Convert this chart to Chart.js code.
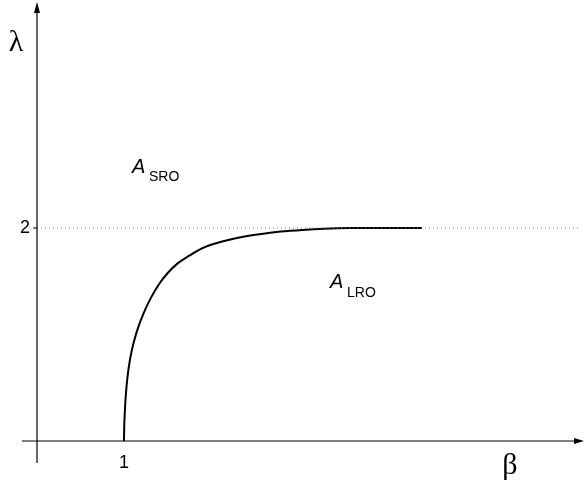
<!DOCTYPE html>
<html>
<head>
<meta charset="utf-8">
<script src="https://cdn.jsdelivr.net/npm/chart.js@4"></script>
<style>
  html, body { margin: 0; padding: 0; background: #fff; }
  #wrap { width: 584px; height: 484px; }
</style>
</head>
<body>
<div id="wrap"><canvas id="chart1"></canvas></div>
<script>
// boundary curve lambda(beta)
var betaValues = [1.0, 1.002, 1.008, 1.02, 1.04, 1.07, 1.11, 1.16, 1.22, 1.3, 1.4, 1.5, 1.62, 1.75, 1.9, 2.05, 2.2, 2.4, 2.6, 2.8, 3.05, 3.3, 3.6, 4.0, 4.425];
var lambdaValues = [0.0, 0.12, 0.25, 0.42, 0.6, 0.77, 0.92, 1.06, 1.19, 1.33, 1.47, 1.575, 1.67, 1.74, 1.81, 1.855, 1.888, 1.922, 1.947, 1.966, 1.982, 1.993, 1.999, 2.0, 2.0];
var dashedLevel = [2, 2];
var dashedBeta = [0, 6.24];
var xTickLabels = ['1'];
var yTickLabels = ['2'];

var curve = betaValues.map(function(b, i) { return { x: b, y: lambdaValues[i] }; });
var level = dashedBeta.map(function(b, i) { return { x: b, y: dashedLevel[i] }; });

var axesPlugin = {
    id: 'axes',
    afterDatasetsDraw: function(chart) {
        var ctx = chart.ctx;
        var xs = chart.scales.x, ys = chart.scales.y;
        var x0 = xs.getPixelForValue(0), y0 = ys.getPixelForValue(0);
        ctx.save();
        ctx.strokeStyle = '#000';
        ctx.fillStyle = '#000';
        ctx.lineWidth = 1.2;
        // x axis
        ctx.beginPath();
        ctx.moveTo(22, y0);
        ctx.lineTo(580, y0);
        ctx.stroke();
        ctx.beginPath();
        ctx.moveTo(584, y0);
        ctx.lineTo(574, y0 - 3);
        ctx.lineTo(574, y0 + 3);
        ctx.closePath();
        ctx.fill();
        // y axis
        ctx.beginPath();
        ctx.moveTo(x0, 463);
        ctx.lineTo(x0, 8);
        ctx.stroke();
        ctx.beginPath();
        ctx.moveTo(x0, 2);
        ctx.lineTo(x0 - 3, 13);
        ctx.lineTo(x0 + 3, 13);
        ctx.closePath();
        ctx.fill();
        // tick at 2
        var y2 = ys.getPixelForValue(2);
        ctx.lineWidth = 1;
        ctx.beginPath();
        ctx.moveTo(x0 - 4, y2);
        ctx.lineTo(x0, y2);
        ctx.stroke();
        // tick labels
        ctx.font = '18px Arial, "Liberation Sans", sans-serif';
        ctx.textAlign = 'center';
        ctx.textBaseline = 'middle';
        ctx.fillText(xTickLabels[0], xs.getPixelForValue(1), y0 + 22);
        ctx.textAlign = 'right';
        ctx.fillText(yTickLabels[0], x0 - 7, y2);
        // axis titles
        ctx.font = '30px "Liberation Serif", "DejaVu Serif", serif';
        ctx.textAlign = 'center';
        ctx.fillText('λ', 16, 43);
        ctx.fillText('β', 510, 466);
        // region labels
        ctx.textAlign = 'left';
        ctx.textBaseline = 'alphabetic';
        ctx.font = 'italic 20px Arial, "Liberation Sans", sans-serif';
        ctx.fillText('A', 132, 173);
        ctx.fillText('A', 330, 288);
        ctx.font = '14px Arial, "Liberation Sans", sans-serif';
        ctx.fillText('SRO', 149, 181);
        ctx.fillText('LRO', 347, 297);
        ctx.restore();
    }
};

var chart1 = new Chart(document.getElementById('chart1').getContext('2d'), {
    type: 'scatter',
    data: {
        datasets: [{
            data: level,
            showLine: true,
            borderColor: '#777',
            borderWidth: 1,
            borderDash: [1, 3],
            pointRadius: 0
        }, {
            data: curve,
            showLine: true,
            borderColor: '#000',
            borderWidth: 2,
            cubicInterpolationMode: 'monotone',
            pointRadius: 0
        }]
    },
    options: {
        responsive: true,
        maintainAspectRatio: false,
        animation: false,
        layout: { padding: 0 },
        plugins: {
            legend: { display: false },
            tooltip: { enabled: false }
        },
        scales: {
            x: { type: 'linear', display: false, min: -0.4253, max: 6.2874 },
            y: { type: 'linear', display: false, min: -0.4038, max: 4.1408 }
        }
    },
    plugins: [axesPlugin]
});
</script>
</body>
</html>
